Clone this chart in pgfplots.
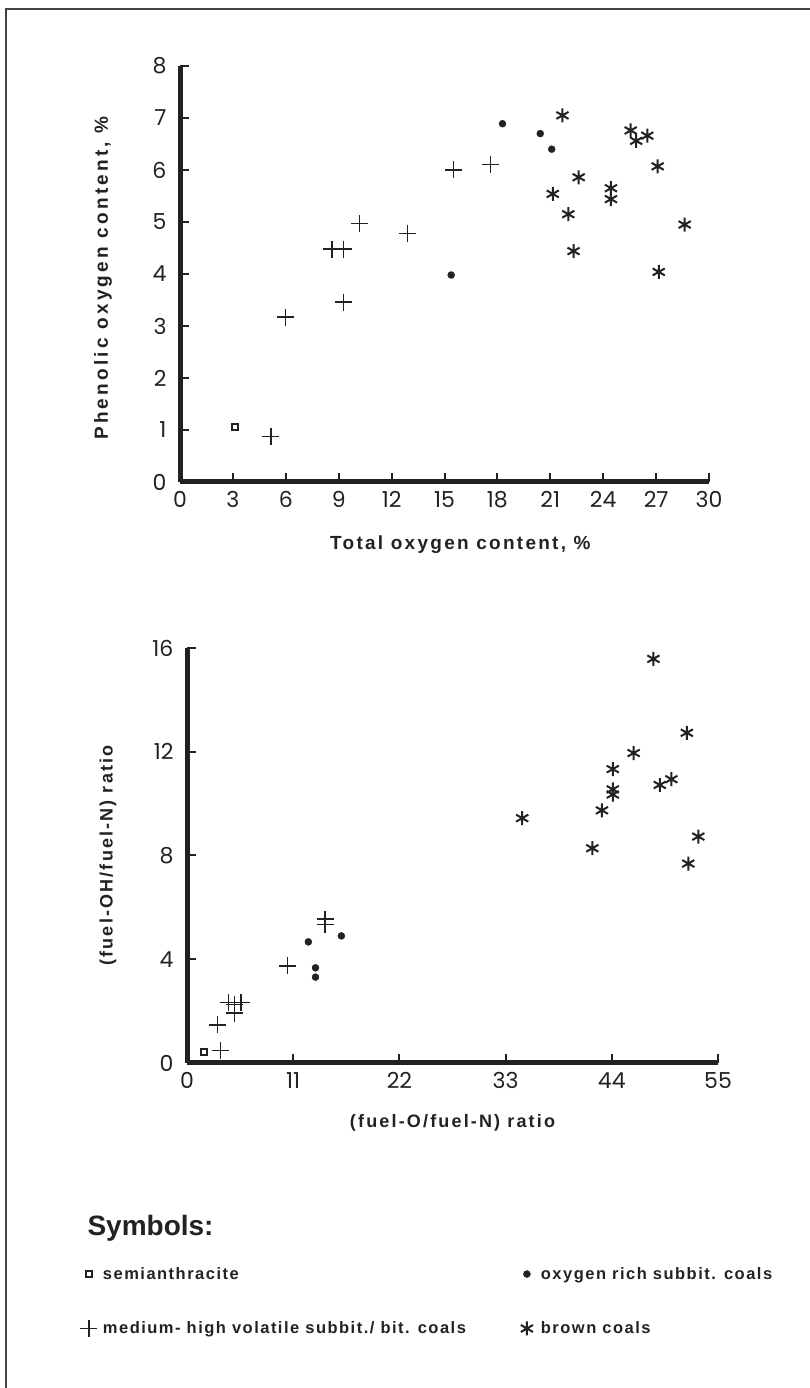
\documentclass[border=0pt]{standalone}
\usepackage{fontspec}
\setmainfont{Liberation Sans}
\newfontfamily\tickfont{Poppins}
\newfontfamily\labfont{Liberation Sans}[LetterSpace=12]
\newfontfamily\ylabfont{Liberation Sans}[LetterSpace=17]
\newfontfamily\legfont{Liberation Sans}[LetterSpace=9]
\usepackage{pgfplots}
\pgfplotsset{compat=1.18}
\definecolor{ink}{HTML}{222222}
\newcommand{\labfmt}{\labfont\bfseries\fontsize{19}{22}\selectfont}
\newcommand{\ylabfmt}{\ylabfont\bfseries\fontsize{19}{22}\selectfont}
\newcommand{\blabfmt}{\labfont\bfseries\fontsize{18}{21}\selectfont}

\pgfplotsset{
  nleg/.style={legend image code/.code={\path[draw=none,fill=none] (0pt,0pt) (20pt,0pt);\draw[##1] plot coordinates {(8pt,0pt)};}},
  coalaxis/.style={
    scale only axis,
    axis x line=bottom, axis y line=left,
    axis line style={line width=5pt, -, ink},
    tick align=inside,
    major tick length=9pt,
    tick style={line width=2pt, ink},
    ticklabel style={font=\tickfont\fontsize{22}{26}\selectfont, text=ink},
    xticklabel style={yshift=-6pt},
    yticklabel style={xshift=-10pt},
    /pgf/number format/assume math mode=true,
    clip=false,
  },
  semi/.style={only marks, mark=square, mark size=3pt, line width=1.6pt, ink, nleg},
  orich/.style={only marks, mark=*, mark size=3.5pt, ink, nleg},
  medv/.style={only marks, mark=+, mark size=8.5pt, line width=1.4pt, ink, nleg},
  brown/.style={only marks, mark=asterisk, mark size=7pt, line width=2pt, ink, nleg},
}

\begin{document}
\begin{tikzpicture}
\useasboundingbox (0,0) rectangle (810pt,1388pt);
\fill[white] (0,0) rectangle (810pt,1388pt);
\draw[line width=2pt, ink!85] (6pt,0) -- (6pt,1379pt) -- (810pt,1379pt);

% ---------- top plot ----------
\begin{axis}[coalaxis,
  at={(180pt,906pt)}, anchor=south west,
  width=529pt, height=416pt,
  xmin=0, xmax=30, ymin=0, ymax=8,
  xtick={0,3,...,30}, ytick={0,1,...,8},
  xlabel={Total oxygen content, \%},
  ylabel={Phenolic oxygen content, \%},
  every axis x label/.style={at={(axis description cs:0.53,-0.151)}, anchor=center, font=\labfmt, text=ink},
  every axis y label/.style={at={(axis description cs:-0.1456,0.49)}, rotate=90, anchor=center, font=\ylabfmt, text=ink},
]
\addplot[semi] coordinates {(3.12,1.06)};
\addplot[orich] coordinates {(18.29,6.89) (20.43,6.70) (21.08,6.40) (15.38,3.98)};
\addplot[medv] coordinates {
 (5.15,0.87) (5.97,3.17) (8.61,4.48) (9.27,4.48) (9.27,3.46)
 (10.18,4.97) (12.89,4.78) (15.5,6.0) (17.62,6.1)};
\addplot[brown] coordinates {
 (21.69,7.05) (21.14,5.54) (22.61,5.86) (22.02,5.15) (22.32,4.44)
 (24.44,5.65) (24.44,5.44) (25.56,6.76) (25.87,6.56) (26.5,6.66)
 (27.09,6.07) (27.15,4.04) (28.62,4.95)};
\end{axis}

% ---------- bottom plot ----------
\begin{axis}[coalaxis,
  at={(187pt,325pt)}, anchor=south west,
  width=531pt, height=415pt,
  xmin=0, xmax=55, ymin=0, ymax=16,
  xtick={0,11,...,55}, ytick={0,4,...,16},
  xlabel={(fuel-O/fuel-N) ratio},
  ylabel={(fuel-OH/fuel-N) ratio},
  every axis x label/.style={at={(axis description cs:0.5,-0.145)}, anchor=center, font=\blabfmt, text=ink},
  every axis y label/.style={at={(axis description cs:-0.149,0.5)}, rotate=90, anchor=center, font=\blabfmt, text=ink},
  legend columns=2,
  legend cell align=left,
  legend style={at={(axis description cs:-0.201,-0.487)}, anchor=north west,
    draw=none, fill=none, inner sep=0pt, row sep=37pt,
    font=\legfont\bfseries\fontsize{16.5}{19}\selectfont, text=ink,
    /tikz/every even column/.append style={column sep=51pt}},
]
\addplot[semi] coordinates {(1.77,0.43)};
\addlegendentry{semianthracite}
\addplot[orich] coordinates {(12.57,4.67) (13.31,3.67) (13.31,3.31) (15.99,4.90)};
\addlegendentry{oxygen rich subbit. coals}
\addplot[medv] coordinates {
 (3.44,0.49) (3.18,1.47) (4.3,2.33) (4.9,2.25) (5.6,2.33) (4.9,1.92)
 (10.44,3.74) (14.31,5.55) (14.31,5.33)};
\addlegendentry{medium- high volatile subbit./ bit. coals}
\addplot[brown] coordinates {
 (48.31,15.58) (51.77,12.73) (46.26,11.95) (44.1,11.33) (44.1,10.55)
 (44.1,10.35) (42.98,9.74) (34.72,9.44) (41.98,8.28) (48.97,10.72)
 (50.17,10.94) (52.96,8.73) (51.92,7.69)};
\addlegendentry{brown coals}
\end{axis}

\node[anchor=west, font=\bfseries\fontsize{28}{32}\selectfont, text=ink] at (84pt,160pt) {Symbols:};
\end{tikzpicture}
\end{document}
